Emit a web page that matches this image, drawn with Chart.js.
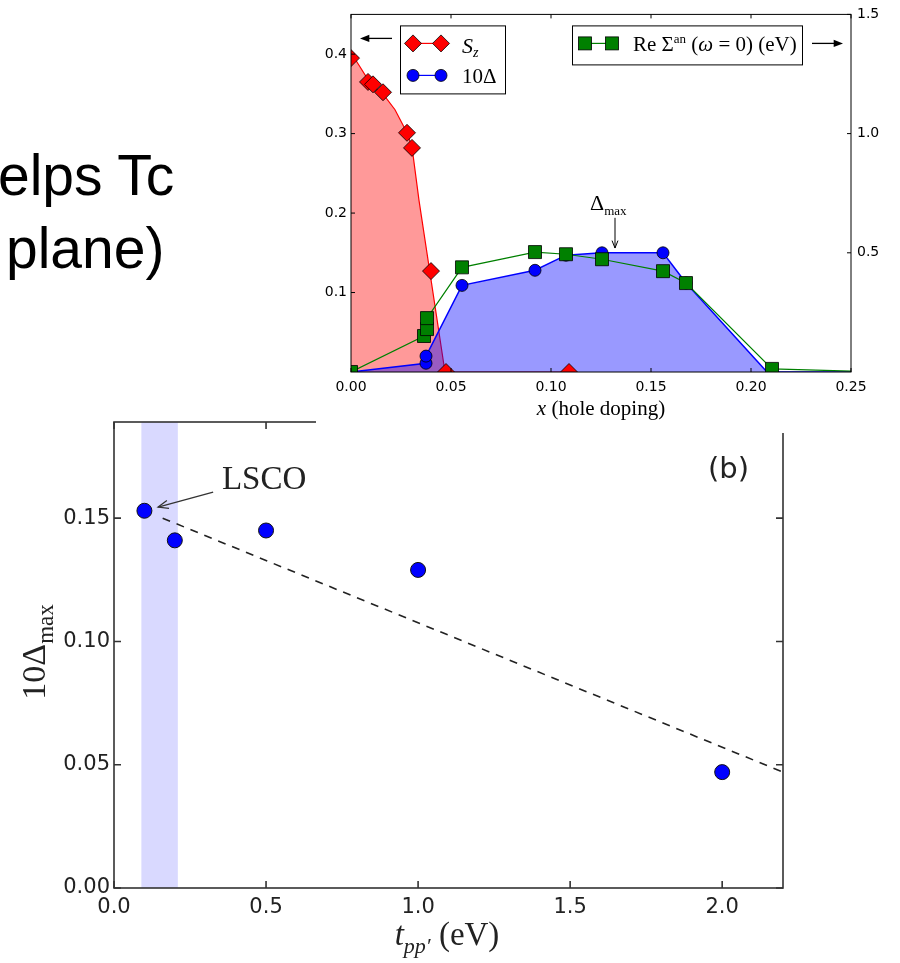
<!DOCTYPE html>
<html>
<head>
<meta charset="utf-8">
<script src="https://cdn.jsdelivr.net/npm/chart.js@4.4.0/dist/chart.umd.min.js"></script>
<style>
  body { margin: 0; width: 900px; height: 963px; position: relative; overflow: hidden; background: #fff; }
  .slide { position: absolute; font-family: "Liberation Sans", Arial, sans-serif; font-size: 57px; line-height: 57px; color: #000; white-space: nowrap; }
  #chartB { position: absolute; left: 0; top: 400px; }
  #chartA { position: absolute; left: 316px; top: 0; background: #fff; }
</style>
</head>
<body>
<div class="slide" style="left:-2px; top:147px;">elps Tc</div>
<div class="slide" style="left:6px; top:220px;">plane)</div>
<canvas id="chartB" width="900" height="563" style="width:900px;height:563px"></canvas>
<canvas id="chartA" width="584" height="433" style="width:584px;height:433px"></canvas>

<script>
// ---- panel (a): x = hole doping ----
const szX = [0.000, 0.0085, 0.011, 0.016, 0.028, 0.0305, 0.040, 0.0475, 0.109];
const szY = [0.395, 0.365, 0.362, 0.352, 0.301, 0.282, 0.127, 0.000, 0.000];
// S_z guide curve
const szLineX = [0.000, 0.004, 0.0085, 0.012, 0.016, 0.022, 0.028, 0.0305, 0.034, 0.047, 0.110];
const szLineY = [0.402, 0.386, 0.368, 0.358, 0.350, 0.330, 0.301, 0.283, 0.216, 0.000, 0.000];
// 10 Delta
const gapX = [0.000, 0.0375, 0.0375, 0.0555, 0.092, 0.1075, 0.1255, 0.156, 0.1675, 0.208, 0.250];
const gapY = [0.000, 0.011, 0.020, 0.109, 0.128, 0.147, 0.150, 0.150, 0.112, 0.000, 0.000];
// Re Sigma_an(w=0) in eV, right axis
const sigX = [0.000, 0.0365, 0.038, 0.038, 0.0555, 0.092, 0.1075, 0.1255, 0.156, 0.1675, 0.2105, 0.250];
const sigY = [0.000, 0.151, 0.180, 0.226, 0.439, 0.503, 0.494, 0.473, 0.423, 0.373, 0.013, 0.004];
const xTicksA = [0, 0.05, 0.10, 0.15, 0.20, 0.25];
const yTicksA = [0.1, 0.2, 0.3, 0.4];
const y2TicksA = [0.5, 1.0, 1.5];

// ---- panel (b): 10 Delta_max vs t_pp' ----
const tpp = [0.1, 0.2, 0.5, 1.0, 2.0];
const dmax = [0.153, 0.141, 0.145, 0.129, 0.047];
const fitX = [0.16, 2.2];
const fitY = [0.150, 0.047];
const lscoBand = [0.09, 0.21];
const xTicksB = [0, 0.5, 1.0, 1.5, 2.0];
const yTicksB = [0, 0.05, 0.10, 0.15];

const SERIF = '"Liberation Serif", "Times New Roman", serif';
const SANS = '"DejaVu Sans", sans-serif';

const xy = (xs, ys) => xs.map((x, i) => ({ x: x, y: ys[i] }));
const fixTicks = vals => s => { s.ticks = vals.map(v => ({ value: v })); };

// draw a row of text pieces: [text, font, dy]
function runs(ctx, x, y, parts, align) {
  let w = 0;
  parts.forEach(p => { ctx.font = p[1]; w += ctx.measureText(p[0]).width; });
  let cx = align === 'center' ? x - w / 2 : x;
  ctx.textAlign = 'left';
  ctx.textBaseline = 'alphabetic';
  parts.forEach(p => {
    ctx.font = p[1];
    ctx.fillText(p[0], cx, y + (p[2] || 0));
    cx += ctx.measureText(p[0]).width;
  });
}

function arrow(ctx, x0, y0, x1, y1, head, filled) {
  const ang = Math.atan2(y1 - y0, x1 - x0);
  ctx.beginPath();
  ctx.moveTo(x0, y0);
  ctx.lineTo(filled ? x1 - head * 0.8 * Math.cos(ang) : x1, filled ? y1 - head * 0.8 * Math.sin(ang) : y1);
  ctx.stroke();
  const a1 = ang + Math.PI - 0.38, a2 = ang + Math.PI + 0.38;
  ctx.beginPath();
  ctx.moveTo(x1 + head * Math.cos(a1), y1 + head * Math.sin(a1));
  ctx.lineTo(x1, y1);
  ctx.lineTo(x1 + head * Math.cos(a2), y1 + head * Math.sin(a2));
  if (filled) { ctx.closePath(); ctx.fill(); } else ctx.stroke();
}

// matplotlib-like box with inward ticks
function frame(opts) {
  return {
    id: 'frame',
    afterDatasetsDraw(chart) {
      const { ctx, chartArea: a, scales } = chart;
      ctx.save();
      ctx.strokeStyle = opts.color;
      ctx.lineWidth = opts.width;
      ctx.strokeRect(a.left, a.top, a.right - a.left, a.bottom - a.top);
      ctx.beginPath();
      scales.x.ticks.forEach(t => {
        const px = scales.x.getPixelForValue(t.value);
        ctx.moveTo(px, a.bottom); ctx.lineTo(px, a.bottom - opts.len);
        ctx.moveTo(px, a.top); ctx.lineTo(px, a.top + opts.len);
      });
      scales[opts.left].ticks.forEach(t => {
        const py = scales[opts.left].getPixelForValue(t.value);
        ctx.moveTo(a.left, py); ctx.lineTo(a.left + opts.len, py);
      });
      scales[opts.right].ticks.forEach(t => {
        const py = scales[opts.right].getPixelForValue(t.value);
        ctx.moveTo(a.right, py); ctx.lineTo(a.right - opts.len, py);
      });
      ctx.stroke();
      ctx.restore();
    }
  };
}

function axisOpts(min, max, ticks, digits, size, color, pad, extra) {
  return Object.assign({
    type: 'linear', min: min, max: max,
    afterBuildTicks: fixTicks(ticks),
    ticks: { callback: v => v.toFixed(digits), font: { family: SANS, size: size }, color: color, padding: pad, autoSkip: false, maxRotation: 0 },
    grid: { display: false, drawTicks: false },
    border: { display: false }
  }, extra);
}

// ---------- panel (a) ----------
const annotA = {
  id: 'annotA',
  afterDraw(chart) {
    const { ctx, chartArea: a, scales: { x, y } } = chart;
    ctx.save();
    ctx.fillStyle = '#000';
    ctx.strokeStyle = '#000';

    // x axis title
    runs(ctx, (a.left + a.right) / 2, 415, [['x', 'italic 21px ' + SERIF], [' (hole doping)', '21px ' + SERIF]], 'center');

    // Delta_max label and arrow
    runs(ctx, x.getPixelForValue(0.1195), y.getPixelForValue(0.204), [['Δ', '22px ' + SERIF], ['max', '13px ' + SERIF, 5]]);
    ctx.lineWidth = 1;
    arrow(ctx, x.getPixelForValue(0.132), y.getPixelForValue(0.194), x.getPixelForValue(0.132), y.getPixelForValue(0.156), 8, false);

    // legend for the left axis
    const l1 = { x: a.left + 49, y: a.top + 11, w: 105, h: 68 };
    ctx.fillStyle = '#fff';
    ctx.fillRect(l1.x, l1.y, l1.w, l1.h);
    ctx.lineWidth = 1;
    ctx.strokeRect(l1.x + 0.5, l1.y + 0.5, l1.w, l1.h);
    const r1 = l1.y + 18, r2 = l1.y + 50, m1 = l1.x + 13, m2 = l1.x + 41;
    ctx.lineWidth = 1.2;
    ctx.strokeStyle = '#f00';
    ctx.beginPath(); ctx.moveTo(m1, r1); ctx.lineTo(m2, r1); ctx.stroke();
    ctx.strokeStyle = '#00f';
    ctx.beginPath(); ctx.moveTo(m1, r2); ctx.lineTo(m2, r2); ctx.stroke();
    ctx.lineWidth = 0.8;
    ctx.strokeStyle = '#000';
    [m1, m2].forEach(mx => {
      ctx.fillStyle = '#f00';
      ctx.beginPath(); ctx.moveTo(mx - 8.5, r1); ctx.lineTo(mx, r1 - 8.5); ctx.lineTo(mx + 8.5, r1); ctx.lineTo(mx, r1 + 8.5); ctx.closePath();
      ctx.fill(); ctx.stroke();
      ctx.fillStyle = '#00f';
      ctx.beginPath(); ctx.arc(mx, r2, 6, 0, Math.PI * 2); ctx.fill(); ctx.stroke();
    });
    ctx.fillStyle = '#000';
    runs(ctx, l1.x + 62, r1 + 10, [['S', 'italic 22px ' + SERIF], ['z', 'italic 14px ' + SERIF, 4]]);
    runs(ctx, l1.x + 62, r2 + 8, [['10Δ', '21px ' + SERIF]]);

    // legend for the right axis
    const l2 = { x: a.right - 279, y: a.top + 11, w: 230, h: 39 };
    ctx.fillStyle = '#fff';
    ctx.fillRect(l2.x, l2.y, l2.w, l2.h);
    ctx.lineWidth = 1;
    ctx.strokeStyle = '#000';
    ctx.strokeRect(l2.x + 0.5, l2.y + 0.5, l2.w, l2.h);
    const r3 = l2.y + 18, m3 = l2.x + 13, m4 = l2.x + 40;
    ctx.lineWidth = 1.2;
    ctx.strokeStyle = '#008000';
    ctx.beginPath(); ctx.moveTo(m3, r3); ctx.lineTo(m4, r3); ctx.stroke();
    ctx.lineWidth = 0.8;
    ctx.strokeStyle = '#000';
    ctx.fillStyle = '#008000';
    [m3, m4].forEach(mx => { ctx.fillRect(mx - 6.5, r3 - 6.5, 13, 13); ctx.strokeRect(mx - 6.5, r3 - 6.5, 13, 13); });
    ctx.fillStyle = '#000';
    runs(ctx, l2.x + 61, r3 + 8, [
      ['Re Σ', '21px ' + SERIF], ['an', '13px ' + SERIF, -8],
      [' (', '21px ' + SERIF], ['ω', 'italic 21px ' + SERIF], [' = 0) (eV)', '21px ' + SERIF]
    ]);

    // axis direction arrows
    ctx.lineWidth = 1.3;
    arrow(ctx, a.left + 41, a.top + 24, a.left + 9, a.top + 24, 10, true);
    arrow(ctx, a.right - 39, a.top + 29, a.right - 8, a.top + 29, 10, true);
    ctx.restore();
  }
};

new Chart(document.getElementById('chartA'), {
  type: 'line',
  data: {
    datasets: [
      {
        label: 'S_z', data: xy(szX, szY), showLine: false, order: 0,
        pointStyle: 'rectRot', pointRadius: 8.5, pointBackgroundColor: '#f00', pointBorderColor: '#000', pointBorderWidth: 0.8
      },
      {
        label: 'Re Sigma_an', yAxisID: 'y2', data: xy(sigX, sigY), order: 1,
        borderColor: '#008000', borderWidth: 1.2,
        pointStyle: 'rect', pointRadius: sigX.map((v, i) => i === sigX.length - 1 ? 0 : 9.2),
        pointBackgroundColor: '#008000', pointBorderColor: '#000', pointBorderWidth: 0.8
      },
      {
        label: '10Δ', data: xy(gapX, gapY), order: 2,
        borderColor: '#00f', borderWidth: 1.5, fill: 'origin', backgroundColor: 'rgba(0,0,255,0.4)',
        pointRadius: gapX.map((v, i) => (i === 0 || i >= gapX.length - 2) ? 0 : 6),
        pointBackgroundColor: '#00f', pointBorderColor: '#000', pointBorderWidth: 0.8
      },
      {
        label: 'S_z curve', data: xy(szLineX, szLineY), order: 3,
        borderColor: '#f00', borderWidth: 1.2, fill: 'origin', backgroundColor: 'rgba(255,0,0,0.4)',
        pointRadius: 0, tension: 0
      }
    ]
  },
  options: {
    responsive: false,
    animation: false,
    events: [],
    layout: { padding: { top: 14, left: 0, right: 0, bottom: 0 } },
    plugins: { legend: { display: false }, tooltip: { enabled: false } },
    scales: {
      x: axisOpts(0, 0.25, xTicksA, 2, 14, '#000', 7, { afterFit: s => { s.height = 61; } }),
      y: axisOpts(0, 0.45, yTicksA, 1, 14, '#000', 4, { position: 'left', afterFit: s => { s.width = 35; } }),
      y2: axisOpts(0, 1.5, y2TicksA, 1, 14, '#000', 6, { position: 'right', afterFit: s => { s.width = 49; } })
    }
  },
  plugins: [frame({ color: '#000', width: 1, len: 4, left: 'y', right: 'y2' }), annotA]
});

// ---------- panel (b) ----------
const bandB = {
  id: 'bandB',
  beforeDatasetsDraw(chart) {
    const { ctx, chartArea: a, scales: { x } } = chart;
    const x0 = x.getPixelForValue(lscoBand[0]), x1 = x.getPixelForValue(lscoBand[1]);
    ctx.save();
    ctx.fillStyle = 'rgba(0,0,255,0.15)';
    ctx.fillRect(x0, a.top, x1 - x0, a.bottom - a.top);
    ctx.restore();
  }
};

const annotB = {
  id: 'annotB',
  afterDraw(chart) {
    const { ctx, chartArea: a, scales: { x, y } } = chart;
    ctx.save();
    ctx.fillStyle = '#222';
    ctx.strokeStyle = '#333';

    // LSCO label + arrow
    runs(ctx, x.getPixelForValue(0.355), y.getPixelForValue(0.162), [['LSCO', '33px ' + SERIF]]);
    ctx.lineWidth = 1.3;
    arrow(ctx, x.getPixelForValue(0.326), y.getPixelForValue(0.1606), x.getPixelForValue(0.145), y.getPixelForValue(0.1545), 11, false);

    // panel tag
    runs(ctx, 708, 78, [['(b)', '29px ' + SANS]]);

    // x title
    runs(ctx, 447, 545, [['t', 'italic 33px ' + SERIF], ['pp′', 'italic 22px ' + SERIF, 8], [' (eV)', '33px ' + SERIF]], 'center');

    // y title, rotated
    ctx.translate(45, 252);
    ctx.rotate(-Math.PI / 2);
    runs(ctx, 0, 0, [['10Δ', '34px ' + SERIF], ['max', '23px ' + SERIF, 8]], 'center');
    ctx.restore();
  }
};

new Chart(document.getElementById('chartB'), {
  type: 'line',
  data: {
    datasets: [
      {
        label: '10 Delta_max', data: xy(tpp, dmax), showLine: false, order: 0,
        pointRadius: 7.5, pointBackgroundColor: '#00f', pointBorderColor: '#111', pointBorderWidth: 1
      },
      {
        label: 'fit', data: xy(fitX, fitY), order: 1,
        borderColor: '#222', borderWidth: 1.6, borderDash: [8, 7], pointRadius: 0
      }
    ]
  },
  options: {
    responsive: false,
    animation: false,
    events: [],
    layout: { padding: { top: 22, right: 117, left: 0, bottom: 0 } },
    plugins: { legend: { display: false }, tooltip: { enabled: false } },
    scales: {
      x: axisOpts(0, 2.2, xTicksB, 1, 21, '#222', 7, { afterFit: s => { s.height = 75; } }),
      y: axisOpts(0, 0.189, yTicksB, 2, 21, '#222', 4, { afterFit: s => { s.width = 114; } })
    }
  },
  plugins: [bandB, frame({ color: '#333', width: 1.6, len: 7, left: 'y', right: 'y' }), annotB]
});
</script>
</body>
</html>
